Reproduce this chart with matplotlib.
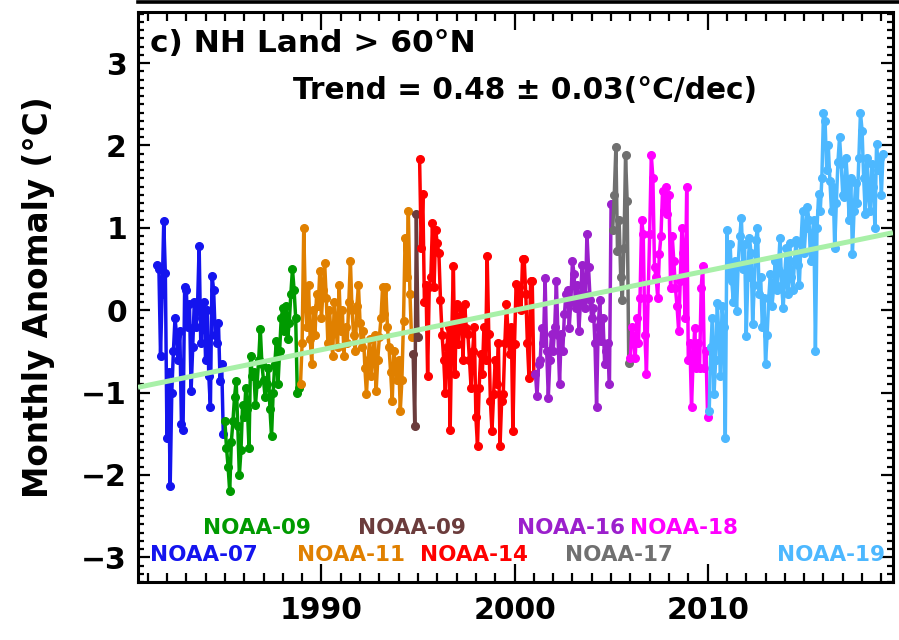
import numpy as np
import matplotlib
matplotlib.use("Agg")
import matplotlib.pyplot as plt
from matplotlib.lines import Line2D
from matplotlib.ticker import MultipleLocator

plt.rcParams['font.family'] = ['DejaVu Sans']
plt.rcParams['font.weight'] = 'bold'

# satellite names, colours and start (decimal year) of each monthly record
sat_names = ["NOAA-07", "NOAA-09", "NOAA-11", "NOAA-09", "NOAA-14",
             "NOAA-16", "NOAA-17", "NOAA-18", "NOAA-19"]
sat_colors = ["#1414EE", "#009A00", "#E08000", "#6B3C3C", "#FF0000",
              "#9B20CC", "#707070", "#FF00FF", "#4DB8FF"]
sat_start = [1981.5, 1985.0, 1988.917, 1994.75, 1995.083,
             2001.083, 2005.083, 2006.0, 2010.083]

# monthly anomalies (deg C)
noaa07 = [0.55, 0.50, -0.55, 0.20, 1.08, 0.45, -1.55, -0.75, -2.13, -1.00,
          -0.50, -0.10, -0.30, -0.60, -0.25, -1.38, -1.45, 0.28, 0.25, -0.20,
          0.08, -0.98, -0.45, 0.10, -0.20, 0.05, 0.78, -0.40, -0.10, 0.10,
          -0.60, 0.00, -0.80, -1.18, 0.42, 0.25, -0.30, -0.40, -0.15, -0.86,
          -0.65, -1.50]
noaa09a = [-1.35, -1.67, -1.90, -2.20, -1.60, -1.35, -1.05, -0.86, -1.40, -2.00,
           -1.70, -1.15, -1.30, -0.95, -1.20, -1.67, -0.55, -0.80, -0.75, -1.15,
           -0.90, -0.60, -0.23, -0.65, -0.85, -1.05, -0.90, -0.70, -1.20, -1.53,
           -1.00, -0.65, -0.37, -0.90, -0.50, -0.10, 0.03, -0.25, 0.05, -0.35,
           -0.15, 0.20, 0.50, 0.25, -0.10, -1.00, -0.95]
noaa11 = [-0.89, -0.40, 1.00, 0.10, -0.20, 0.30, -0.35, -0.65, 0.00, -0.30,
          0.20, 0.05, 0.48, -0.10, 0.25, 0.57, 0.15, -0.40, 0.00, -0.30,
          -0.55, 0.10, -0.20, -0.45, 0.30, -0.25, 0.00, -0.55, -0.20, -0.40,
          0.10, 0.60, 0.00, -0.30, -0.50, 0.05, 0.30, -0.15, -0.45, -0.25,
          -0.70, -1.02, -0.60, -0.35, -0.80, -0.55, -0.30, -0.98, -0.60, -0.33,
          -0.10, 0.28, -0.05, 0.28, -0.20, -0.45, -0.75, -1.10, -0.50, -0.70,
          -0.85, -0.60, -1.22, -0.85, -0.13, 0.88, 0.40, 1.21, 0.20, -0.33]
noaa09b = [-0.53, -1.40, 1.17, -0.33]
noaa14 = [1.84, 0.76, 1.41, 0.10, 0.30, -0.80, 0.28, 0.40, 1.06, 0.28,
          0.97, 0.81, 0.69, 0.12, -0.30, -0.60, -1.01, -0.45, -0.20, -1.46,
          -0.30, 0.54, -0.77, 0.08, -0.41, -0.10, 0.03, -0.60, 0.08, -0.21,
          -0.29, -0.60, -0.94, -0.50, -0.20, -1.30, -1.65, -0.94, -0.53, -0.77,
          -0.20, -0.60, 0.66, -0.29, -1.10, -1.47, -1.02, -0.61, -0.90, -0.40,
          -1.65, -1.10, -1.02, -0.40, 0.08, -0.29, -0.53, -0.20, -1.47, -0.41,
          0.32, 0.10, 0.28, 0.00, 0.62, 0.62, 0.20, -0.40, -0.82, 0.36,
          0.36, -0.77]
noaa16 = [-0.77, -1.04, -0.65, -0.60, -0.21, -0.40, 0.39, -0.50, -1.06, -0.60,
          -0.29, -0.49, -0.20, 0.36, -0.30, -0.89, -0.29, -0.50, -0.05, 0.20,
          0.24, -0.21, 0.10, 0.60, 0.44, 0.03, 0.30, -0.25, 0.10, 0.55,
          0.20, 0.03, 0.93, 0.52, 0.12, -0.10, 0.03, -0.40, -1.18, -0.20,
          0.12, -0.37, -0.10, -0.65, -0.50, -0.40, -0.90, 1.29]
noaa17 = [0.97, 1.40, 1.98, 0.72, 1.10, 0.40, 0.12, 0.76, 1.88, 1.33, -0.64]
noaa18 = [-0.58, -0.20, -0.35, -0.58, -0.10, -0.40, 0.15, 1.09, 0.93, -0.30,
          -0.77, 0.15, 0.93, 1.88, 1.61, 0.52, 0.40, 0.15, 0.68, 0.90,
          1.45, 1.20, 1.49, 1.17, 1.40, 0.27, 0.90, 0.60, 0.27, 0.05,
          -0.25, 0.36, 1.00, 0.70, -0.10, 1.49, -0.61, -0.40, -1.18, -0.60,
          -0.21, -0.70, -0.40, -0.70, 0.27, 0.54, -0.70, -0.50, -1.30]
noaa19 = [-1.22, -0.45, -0.10, -1.02, -0.60, 0.09, -0.30, -0.80, 0.05, -0.20,
          -1.55, 0.97, 0.40, 0.80, 0.36, 0.10, 0.60, -0.01, 0.56, 0.90,
          1.12, 0.50, 0.80, -0.31, 0.40, 0.88, 0.70, -0.17, 0.30, 0.85,
          1.00, 0.20, 0.40, -0.20, 0.15, -0.65, -0.30, 0.15, 0.44, 0.05,
          0.27, 0.60, 0.24, 0.50, 0.88, 0.30, 0.03, 0.45, 0.76, 0.20,
          0.81, 0.40, 0.24, 0.60, 0.85, 0.55, 0.30, 0.80, 1.20, 0.70,
          1.00, 1.25, 1.09, 0.60, 0.90, 1.10, -0.49, 1.00, 1.41, 1.20,
          1.60, 2.39, 2.30, 1.70, 2.00, 1.57, 1.20, 1.50, 0.76, 1.30,
          1.80, 2.10, 1.78, 1.40, 1.37, 1.85, 1.54, 1.10, 1.60, 0.68,
          1.20, 1.54, 1.30, 1.85, 2.40, 2.18, 1.60, 1.17, 1.85, 1.40,
          1.20, 1.78, 1.50, 1.00, 2.02, 1.70, 1.85, 1.40, 1.90]
series = [noaa07, noaa09a, noaa11, noaa09b, noaa14, noaa16, noaa17, noaa18, noaa19]

# where each satellite name is written (year, anomaly)
label_x = [1981.1, 1983.85, 1988.72, 1991.88, 1995.09, 2000.12, 2002.6, 2005.97, 2013.59]
label_y = [-2.97, -2.64, -2.97, -2.64, -2.97, -2.64, -2.97, -2.64, -2.97]

trend_rate = 0.48      # deg C per decade
trend_err = 0.03
trend_ref_year = 2000.0
trend_ref_val = 0.0

xlim = (1980.5, 2019.6)
ylim = (-3.3, 3.62)

fig = plt.figure(figsize=(8.99, 6.40), dpi=100)
ax = fig.add_axes([0.1535, 0.0906, 0.8398, 0.8906])

for vals, start, col in zip(series, sat_start, sat_colors):
    t = start + np.arange(len(vals)) / 12.0
    ax.plot(t, vals, color=col, lw=2.5, marker='o', ms=5.5, mec=col, mfc=col)

tx = np.array(xlim)
ax.plot(tx, trend_ref_val + trend_rate * (tx - trend_ref_year) / 10.0,
        color="#A8F0A8", lw=3.6, zorder=5, solid_capstyle='butt')

for name, col, lx, ly in zip(sat_names, sat_colors, label_x, label_y):
    ax.text(lx, ly, name, color=col, fontsize=15.5, fontweight='bold',
            ha='left', va='center')

ax.text(0.016, 0.944, "c) NH Land > 60°N", transform=ax.transAxes,
        fontsize=22.5, fontweight='bold', ha='left', va='center')
ax.text(0.205, 0.863, f"Trend = {trend_rate:.2f} ± {trend_err:.2f}(°C/dec)",
        transform=ax.transAxes, fontsize=21.3, fontweight='bold',
        ha='left', va='center')

ax.set_xlim(*xlim)
ax.set_ylim(*ylim)
ax.xaxis.set_major_locator(MultipleLocator(10))
ax.xaxis.set_minor_locator(MultipleLocator(1))
ax.yaxis.set_major_locator(MultipleLocator(1))
ax.yaxis.set_minor_locator(MultipleLocator(0.1))
ax.xaxis.set_major_formatter(plt.FuncFormatter(lambda v, p: f"{int(round(v))}"))
ax.yaxis.set_major_formatter(plt.FuncFormatter(lambda v, p: f"{int(round(v))}".replace("-", "\u2212")))

ax.tick_params(axis='x', which='major', direction='in', length=13, width=1.6,
               top=True, labelsize=21.5, pad=10)
ax.tick_params(axis='x', which='minor', direction='in', length=6.5, width=1.6, top=True)
ax.tick_params(axis='y', which='major', direction='in', length=8.6, width=1.6,
               right=True, labelsize=21.5, pad=8)
ax.tick_params(axis='y', which='minor', direction='in', length=4.3, width=1.6, right=True)
for lab in ax.get_xticklabels() + ax.get_yticklabels():
    lab.set_fontweight('bold')
for sp in ax.spines.values():
    sp.set_linewidth(2.2)

ax.set_ylabel("Monthly Anomaly (°C)", fontsize=23.5, fontweight='bold', labelpad=19)

# bottom frame of the panel above, cut by the image edge
fig.add_artist(Line2D([0.1535, 1.0], [0.9975, 0.9975], color='black', lw=2.6,
                      transform=fig.transFigure))

fig.savefig("out.png", dpi=100)
